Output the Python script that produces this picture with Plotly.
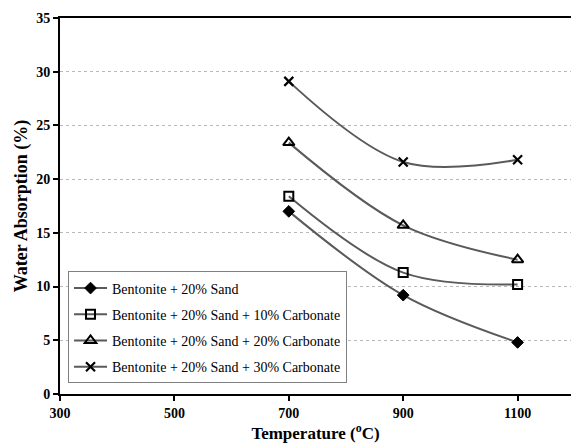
import plotly.graph_objects as go

temps = [700, 900, 1100]
s1 = [17.0, 9.2, 4.8]
s2 = [18.4, 11.3, 10.2]
s3 = [23.4, 15.7, 12.5]
s4 = [29.1, 21.6, 21.8]
names = ["Bentonite + 20% Sand",
         "Bentonite + 20% Sand + 10% Carbonate",
         "Bentonite + 20% Sand + 20% Carbonate",
         "Bentonite + 20% Sand + 30% Carbonate"]
x_ticks = [300, 500, 700, 900, 1100]
y_ticks = [0, 5, 10, 15, 20, 25, 30, 35]

series = [s1, s2, s3, s4]
markers = [
    dict(symbol="diamond", size=9, color="black", line=dict(color="black", width=1)),
    dict(symbol="square-open", size=9, color="black", line=dict(color="black", width=2)),
    dict(symbol="triangle-up-open", size=10, color="black", line=dict(color="black", width=2)),
    dict(symbol="x-thin", size=9, color="black", line=dict(color="black", width=2.2)),
]

fig = go.Figure()
for i, (s, nm, mk) in enumerate(zip(series, names, markers)):
    fig.add_trace(go.Scatter(
        x=temps, y=s, name=nm, mode="lines+markers",
        line=dict(color="#5a5a5a", width=2, shape="spline", smoothing=1.0),
        marker=mk, legendgroup=f"g{i}",
    ))

font_family = "'Liberation Serif', 'Times New Roman', Times, serif"
fig.update_layout(
    width=571, height=444,
    margin=dict(l=60, r=0, t=18, b=49.5),
    paper_bgcolor="white", plot_bgcolor="white",
    font=dict(family=font_family, color="black"),
    showlegend=True,
    legend=dict(
        x=0.0157, y=0.028, xanchor="left", yanchor="bottom",
        bgcolor="white", bordercolor="#808080", borderwidth=1,
        font=dict(family=font_family, size=14, color="black"),
        traceorder="grouped", tracegroupgap=5, itemwidth=33,
    ),
)
fig.update_xaxes(
    range=[300, 300 + (571 - 60) / 114.4 * 200],
    tickvals=x_ticks, ticktext=[str(v) for v in x_ticks],
    showgrid=False, zeroline=False,
    showline=True, linecolor="black", linewidth=2, mirror=True,
    ticks="outside", ticklen=5, tickwidth=1.5, tickcolor="black",
    tickfont=dict(family=font_family, size=14, color="black", weight="bold"),
    title=dict(text="Temperature (<sup>o</sup>C)", standoff=4,
               font=dict(family=font_family, size=17, color="black", weight="bold")),
)
fig.update_yaxes(
    range=[0, 35], tickvals=y_ticks, ticktext=[str(v) for v in y_ticks],
    showgrid=True, gridcolor="#b8b8b8", griddash="dot", gridwidth=1,
    zeroline=False,
    showline=True, linecolor="black", linewidth=2,
    ticks="outside", ticklen=5, tickwidth=1.5, tickcolor="black",
    tickfont=dict(family=font_family, size=14, color="black", weight="bold"),
    title=dict(text="Water Absorption (%)", standoff=4,
               font=dict(family=font_family, size=18, color="black", weight="bold")),
)

fig.write_html("out.html")
